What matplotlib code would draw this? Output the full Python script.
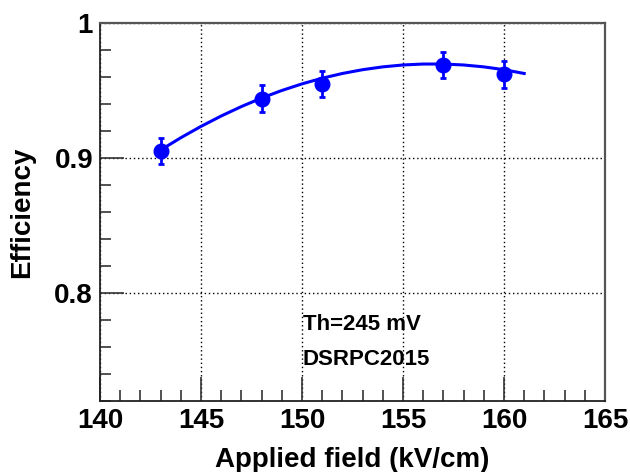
import matplotlib
matplotlib.use("Agg")
import matplotlib.pyplot as plt
from matplotlib.ticker import MultipleLocator

# ---------- Données ----------

field = [143, 148, 151, 157, 160]          # kV/cm
eff = [0.905, 0.944, 0.955, 0.969, 0.962]
eff_err = [0.0098, 0.0098, 0.0097, 0.0096, 0.0098]

# courbe d'ajustement
fit_x = [143, 144, 145, 146, 147, 148, 149, 150, 151, 152, 153, 154, 155,
         156, 157, 158, 159, 160, 161]
fit_y = [0.9059, 0.9150, 0.9234, 0.9311, 0.9381, 0.9444, 0.9500, 0.9549,
         0.9591, 0.9626, 0.9654, 0.9675, 0.9689, 0.9696, 0.9696, 0.9689,
         0.9675, 0.9654, 0.9626]

labels = ["Th=245 mV", "DSRPC2015"]

# ---------- Figure ----------

plt.rcParams['font.family'] = ['Liberation Sans', 'DejaVu Sans']
plt.rcParams['font.weight'] = 'bold'

fig = plt.figure(figsize=(6.3, 4.72), dpi=100)
ax = fig.add_axes([0.1587, 0.1504, 0.8016, 0.8009])

ax.plot(fit_x, fit_y, color='#0000ff', lw=2.2, zorder=3)
ax.errorbar(field, eff, yerr=eff_err, fmt='o', color='#0000ff', ms=10.5,
            elinewidth=2, capsize=2.5, capthick=2, zorder=4)

ax.set_xlim(140, 165)
ax.set_ylim(0.72, 1.0)
ax.xaxis.set_major_locator(MultipleLocator(5))
ax.xaxis.set_minor_locator(MultipleLocator(1))
ax.yaxis.set_major_locator(MultipleLocator(0.1))
ax.yaxis.set_minor_locator(MultipleLocator(0.02))
ax.set_yticks([0.8, 0.9, 1.0])
ax.set_yticklabels(["0.8", "0.9", "1"])

ax.tick_params(which='both', direction='in', top=False, right=False,
               labelsize=20, width=1.2, color='#333333')
ax.tick_params(which='major', length=17, pad=5)
ax.tick_params(which='minor', length=8)

ax.grid(True, which='major', linestyle=(0, (1, 2)), color='black', lw=1)

for s in ['left', 'bottom']:
    ax.spines[s].set_linewidth(1.3)
    ax.spines[s].set_color('#222222')
for s in ['top', 'right']:
    ax.spines[s].set_linewidth(1.6)
    ax.spines[s].set_color('#555555')

ax.set_xlabel("Applied field (kV/cm)", fontsize=20, fontweight='bold', labelpad=9.5)
ax.set_ylabel("Efficiency", fontsize=20, fontweight='bold', labelpad=14)

ax.text(150.03, 0.7726, labels[0], fontsize=16, fontweight='bold', va='baseline')
ax.text(150.03, 0.7467, labels[1], fontsize=16, fontweight='bold', va='baseline')

fig.savefig("out.png", dpi=100)
